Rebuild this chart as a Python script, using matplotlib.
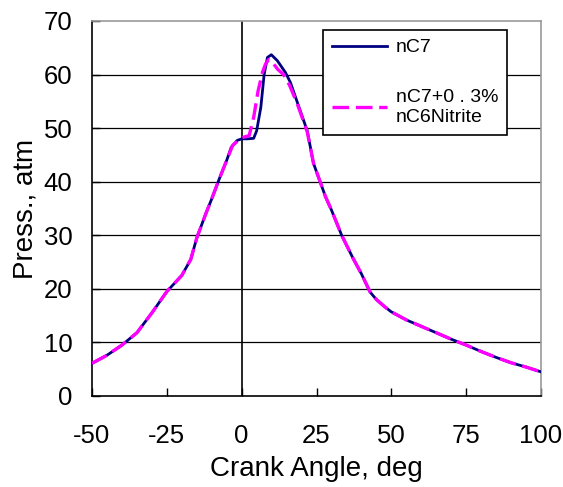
import matplotlib
matplotlib.use("Agg")
import matplotlib.pyplot as plt

plt.rcParams['font.family'] = ['Liberation Sans', 'DejaVu Sans']
plt.rcParams['axes.unicode_minus'] = False

# Data
angle_nc7 = [-50, -45, -40, -35, -30, -25, -20, -17, -15, -12, -10, -7.5, -5, -3.5, -1.5, 0,
             2, 4, 5, 6.4, 7.5, 8.6, 9.9, 11.9, 14.6, 16.3, 18.6, 21.9, 24, 26.2, 28, 30,
             33.4, 37.2, 40, 42.9, 45, 47.9, 50, 55, 60, 65, 70, 75, 80, 85, 90, 95, 100]
press_nc7 = [6.1, 7.6, 9.5, 11.8, 15.5, 19.5, 22.5, 25.5, 29.5, 34, 36.8, 40.5, 44, 46.4, 47.7, 48,
             48, 48.1, 49.5, 53.9, 60, 63.2, 63.7, 62.6, 60.4, 58.5, 54.8, 49.5, 43.4, 40, 37.2, 34.7,
             30, 25.7, 22.8, 19.4, 18, 16.6, 15.7, 14.2, 13, 11.8, 10.6, 9.5, 8.3, 7.2, 6.2, 5.4, 4.5]

angle_nit = [-50, -45, -40, -35, -30, -25, -20, -17, -15, -12, -10, -7.5, -5, -3, 0,
             2.5, 4, 5.5, 7, 8, 9, 10, 12, 14, 16, 18.6, 21.9, 24, 26.2, 28, 30,
             33.4, 37.2, 40, 42.9, 45, 47.9, 50, 55, 60, 65, 70, 75, 80, 85, 90, 95, 100]
press_nit = [6.1, 7.6, 9.5, 11.8, 15.5, 19.5, 22.5, 25.5, 29.5, 34, 36.8, 40.5, 44, 46.8, 48.2,
             48.6, 52, 57, 60.5, 62, 62.8, 62.5, 61, 60, 58, 54.5, 49.3, 43.4, 40, 37.2, 34.7,
             30, 25.7, 22.8, 19.4, 18, 16.6, 15.7, 14.2, 13, 11.8, 10.6, 9.5, 8.3, 7.2, 6.2, 5.4, 4.5]

label_nc7 = "nC7"
label_nit = "nC7+0 . 3%\nnC6Nitrite"
xticks = [-50, -25, 0, 25, 50, 75, 100]
yticks = [0, 10, 20, 30, 40, 50, 60, 70]

fig = plt.figure(figsize=(5.63, 4.87), dpi=100)
ax = fig.add_axes([0.1634, 0.1869, 0.7976, 0.7700])

for yv in yticks[1:-1]:
    ax.axhline(yv, color='black', lw=0.9, zorder=1)
ax.axvline(0, color='black', lw=1.2, zorder=1)

ax.plot(angle_nc7, press_nc7, color='#000080', lw=2.0, label=label_nc7, zorder=3)
ax.plot(angle_nit, press_nit, color='#FF00FF', lw=2.4, dashes=(5, 2), label=label_nit, zorder=4)

ax.set_xlim(-50, 100)
ax.set_ylim(0, 70)
ax.set_xticks(xticks)
ax.set_yticks(yticks)
ax.tick_params(axis='both', direction='in', length=6, width=1, labelsize=18.5)
ax.tick_params(axis='x', pad=20)
ax.tick_params(axis='y', pad=14)

for s in ['left', 'bottom']:
    ax.spines[s].set_color('black')
    ax.spines[s].set_linewidth(1.2)
for s in ['top', 'right']:
    ax.spines[s].set_color('#999999')
    ax.spines[s].set_linewidth(1.2)

ax.set_xlabel("Crank Angle, deg", fontsize=20, labelpad=6)
ax.set_ylabel("Press., atm", fontsize=20, labelpad=4)

leg = ax.legend(loc='upper left', bbox_to_anchor=(0.514, 0.976), fontsize=14,
                frameon=True, fancybox=False, edgecolor='black', framealpha=1,
                handlelength=2.85, labelspacing=1.7, borderpad=0.45, handletextpad=0.45,
                borderaxespad=0)
leg.get_frame().set_linewidth(1.2)
leg.set_zorder(5)

fig.savefig("out.png", dpi=100)
